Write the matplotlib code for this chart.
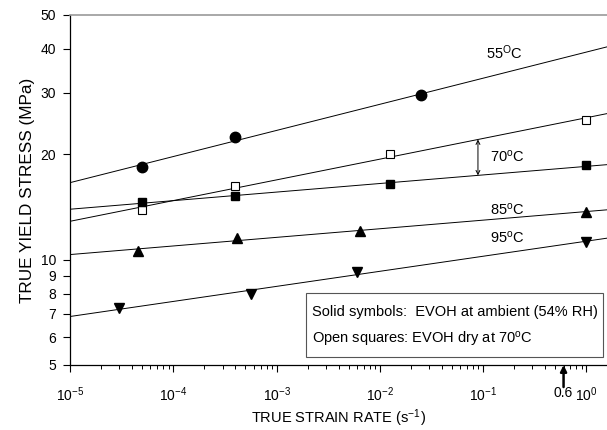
import numpy as np
import matplotlib
matplotlib.use("Agg")
import matplotlib.pyplot as plt
from matplotlib.patches import Rectangle
from matplotlib.ticker import FixedLocator, FixedFormatter, LogLocator, NullFormatter

plt.rcParams['font.family'] = ['Liberation Sans', 'DejaVu Sans']
plt.rcParams['mathtext.default'] = 'regular'

# yield stress (MPa) vs true strain rate (1/s)
rate_55 = [5.0e-5, 4.0e-4, 2.5e-2]
stress_55 = [18.4, 22.4, 29.5]

rate_70 = [5.0e-5, 4.0e-4, 1.25e-2, 1.0]
stress_70 = [14.6, 15.2, 16.4, 18.6]

rate_70_dry = [5.0e-5, 4.0e-4, 1.25e-2, 1.0]
stress_70_dry = [13.9, 16.2, 20.0, 25.1]

rate_85 = [4.6e-5, 4.1e-4, 6.4e-3, 1.0]
stress_85 = [10.6, 11.55, 12.05, 13.7]

rate_95 = [3.0e-5, 5.7e-4, 6.0e-3, 1.0]
stress_95 = [7.26, 8.0, 9.24, 11.25]

y_ticks = [5, 6, 7, 8, 9, 10, 20, 30, 40, 50]
x_min, x_max = 1e-5, 1.58
arrow_rate = 0.089   # where the dry/ambient gap at 70C is marked
marked_rate = 0.6


def power_fit(rate, stress):
    # straight line in log-log space
    k, b = np.polyfit(np.log10(rate), np.log10(stress), 1)
    return lambda r: 10 ** (k * np.log10(r) + b)


fig = plt.figure(figsize=(6.07, 4.30), dpi=100)
ax = fig.add_axes([0.1153, 0.1512, 0.8847, 0.814])

xs = np.logspace(np.log10(x_min), np.log10(x_max), 200)
series = [
    (rate_55, stress_55, dict(marker='o', ms=7.5, mfc='black', mec='black')),
    (rate_70_dry, stress_70_dry, dict(marker='s', ms=6.0, mfc='white', mec='black', mew=0.8)),
    (rate_70, stress_70, dict(marker='s', ms=6.0, mfc='black', mec='black')),
    (rate_85, stress_85, dict(marker='^', ms=7.0, mfc='black', mec='black')),
    (rate_95, stress_95, dict(marker='v', ms=7.0, mfc='black', mec='black')),
]
fits = []
for rate, stress, style in series:
    f = power_fit(rate, stress)
    fits.append(f)
    ax.plot(xs, f(xs), color='black', lw=0.7, zorder=2)
    ax.plot(rate, stress, ls='none', zorder=3, **style)

ax.set_xscale('log')
ax.set_yscale('log')
ax.set_xlim(x_min, x_max)
ax.set_ylim(5, 50)

ax.yaxis.set_major_locator(FixedLocator(y_ticks))
ax.yaxis.set_major_formatter(FixedFormatter([str(v) for v in y_ticks]))
ax.yaxis.set_minor_locator(FixedLocator([]))
ax.xaxis.set_major_locator(LogLocator(base=10, numticks=10))
ax.xaxis.set_minor_locator(LogLocator(base=10, subs=np.arange(2, 10), numticks=20))
ax.xaxis.set_minor_formatter(NullFormatter())

ax.tick_params(axis='both', which='major', direction='out', length=5, width=0.8,
               labelsize=10, color='black')
ax.tick_params(axis='x', which='minor', direction='out', length=3, width=0.7)
ax.tick_params(axis='x', pad=10)
ax.tick_params(axis='y', pad=5)

ax.spines['right'].set_visible(False)
ax.spines['top'].set_color('#999999')
ax.spines['top'].set_linewidth(1.2)
ax.spines['left'].set_linewidth(0.9)
ax.spines['bottom'].set_linewidth(0.9)

ax.set_xlabel('TRUE STRAIN RATE (s$^{-1}$)', fontsize=10.5, labelpad=2)
ax.set_ylabel('TRUE YIELD STRESS (MPa)', fontsize=12.3, labelpad=4)

# temperature labels
ax.text(0.159, 38.9, '55$^{O}$C', fontsize=10.5, ha='center', va='center')
ax.text(0.170, 19.65, '70$^{o}$C', fontsize=10.5, ha='center', va='center')
ax.text(0.170, 13.87, '85$^{o}$C', fontsize=10.5, ha='center', va='center')
ax.text(0.170, 11.53, '95$^{o}$C', fontsize=10.5, ha='center', va='center')

# gap between dry and ambient at 70C
y_top = fits[1](arrow_rate)
y_bot = fits[2](arrow_rate)
ax.annotate('', xy=(arrow_rate, y_top), xytext=(arrow_rate, y_bot),
            arrowprops=dict(arrowstyle='<->', lw=0.7, color='black',
                            mutation_scale=7, shrinkA=0, shrinkB=0))

# note box
ax.add_patch(Rectangle((0.4395, 0.0229), 0.5531, 0.1837, transform=ax.transAxes,
                       fill=True, facecolor='white', edgecolor='#555555', lw=0.8, zorder=4))
ax.text(0.4507, 0.152, 'Solid symbols:  EVOH at ambient (54% RH)', transform=ax.transAxes,
        fontsize=10.5, va='center', ha='left', zorder=5)
ax.text(0.4507, 0.0714, 'Open squares: EVOH dry at 70$^{o}$C', transform=ax.transAxes,
        fontsize=10.5, va='center', ha='left', zorder=5)

# marker for strain rate 0.6, sitting on the tick-label row
trans = ax.get_xaxis_transform()
ax.text(marked_rate, -0.08, '0.6', transform=trans, fontsize=10,
        ha='center', va='center', clip_on=False)
ax.annotate('', xy=(marked_rate, 0.0), xycoords=trans,
            xytext=(marked_rate, -0.063), textcoords=trans, annotation_clip=False,
            arrowprops=dict(arrowstyle='-|>', lw=1.8, color='black',
                            mutation_scale=9, shrinkA=0, shrinkB=0))

fig.savefig('out.png', dpi=100)
